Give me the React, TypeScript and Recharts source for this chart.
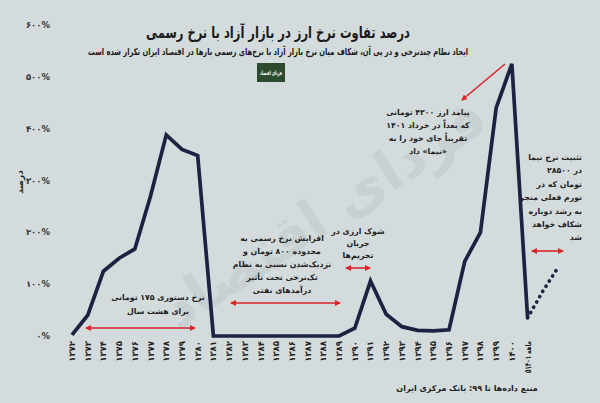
import React from 'react';
import { ComposedChart, Line, XAxis, YAxis } from 'recharts';

const years = ['۱۳۷۲','۱۳۷۳','۱۳۷۴','۱۳۷۵','۱۳۷۶','۱۳۷۷','۱۳۷۸','۱۳۷۹','۱۳۸۰','۱۳۸۱','۱۳۸۲','۱۳۸۳','۱۳۸۴','۱۳۸۵','۱۳۸۶','۱۳۸۷','۱۳۸۸','۱۳۸۹','۱۳۹۰','۱۳۹۱','۱۳۹۲','۱۳۹۳','۱۳۹۴','۱۳۹۵','۱۳۹۶','۱۳۹۷','۱۳۹۸','۱۳۹۹','۱۴۰۰','۵ماهه ۱۴۰۱','p1','p2'];
const gapValues: (number | null)[] = [2, 40, 125, 150, 168, 270, 388, 360, 348, 0, 0, 0, 0, 0, 0, 0, 0, 0, 15, 106, 42, 18, 11, 10, 12, 144, 200, 440, 525, 35, null, null];
const projectionValues: (number | null)[] = [null, null, null, null, null, null, null, null, null, null, null, null, null, null, null, null, null, null, null, null, null, null, null, null, null, null, null, null, null, 35, 88, 135];
const yTicks = [0, 100, 200, 300, 400, 500, 600];
const yTickLabels = ['۰%', '۱۰۰%', '۲۰۰%', '۳۰۰%', '۴۰۰%', '۵۰۰%', '۶۰۰%'];

const data = years.map((y, i) => ({ year: y, gap: gapValues[i], proj: projectionValues[i] }));

const FONT = 'DejaVu Sans';
const BG = '#d4dbdc';
const NAVY = '#1b2242';
const RED = '#d8262b';

const XTick = (props: any) => {
  const { x, y, payload } = props;
  const label = String(payload.value);
  if (label.startsWith('p')) return null;
  const long = label.length > 4;
  return (
    <text
      x={x}
      y={y}
      transform={`rotate(-90, ${x}, ${y})`}
      textAnchor="end"
      dominantBaseline="central"
      fontFamily={FONT}
      fontSize={8.5}
      fontWeight="bold"
      fill="#222"
      textLength={long ? 32 : undefined}
      lengthAdjust={long ? 'spacingAndGlyphs' : undefined}
    >
      {label}
    </text>
  );
};

const YTick = (props: any) => {
  const { x, y, payload } = props;
  const idx = yTicks.indexOf(payload.value);
  return (
    <text x={x} y={y} textAnchor="end" dominantBaseline="central" fontFamily={FONT} fontSize={8.5} fontWeight="bold" fill="#333">
      {yTickLabels[idx]}
    </text>
  );
};

const Arrow = ({ x1, y1, x2, y2, both = true }: any) => (
  <line x1={x1} y1={y1} x2={x2} y2={y2} stroke={RED} strokeWidth={1.6} markerEnd="url(#ah)" markerStart={both ? 'url(#ahs)' : undefined} />
);

const Lines = ({ x, y, lines, anchor = 'middle', size = 7.8, lh = 13 }: any) => (
  <text x={x} y={y} textAnchor={anchor} fontFamily={FONT} fontSize={size} fontWeight="bold" fill="#222" direction="rtl">
    {lines.map((l: string, i: number) => (
      <tspan key={i} x={x} dy={i === 0 ? 0 : lh}>{l}</tspan>
    ))}
  </text>
);

export default function App() {
  return (
    <div style={{ position: 'absolute', left: 0, top: 0, width: 600, height: 403, background: BG, overflow: 'hidden' }}>
      <svg width={600} height={403} style={{ position: 'absolute', left: 0, top: 0 }}>
        <text
          x={325}
          y={232}
          transform="rotate(-33, 325, 215)"
          textAnchor="middle"
          fontFamily={FONT}
          fontWeight="bold"
          fontSize={56}
          fill="#c9d0d1"
          direction="rtl"
        >
          فردای اقتصاد
        </text>
      </svg>
      <div style={{ position: 'absolute', left: 0, top: 0 }}>
        <ComposedChart width={600} height={403} data={data} margin={{ top: 25, right: 41, bottom: 0, left: 0 }}>
          <XAxis
            dataKey="year"
            scale="point"
            interval={0}
            height={67}
            tickLine={false}
            axisLine={false}
            tickSize={0}
            tickMargin={5}
            tick={<XTick />}
          />
          <YAxis
            domain={[0, 600]}
            ticks={yTicks}
            width={72}
            tickLine={false}
            axisLine={false}
            tickSize={0}
            tickMargin={22}
            tick={<YTick />}
          />
          <Line type="linear" dataKey="gap" stroke={NAVY} strokeWidth={3.7} dot={false} isAnimationActive={false} connectNulls={false} />
          <Line type="linear" dataKey="proj" stroke={NAVY} strokeWidth={3.7} strokeDasharray="0.1 6" strokeLinecap="round" dot={false} isAnimationActive={false} />
        </ComposedChart>
      </div>
      <svg width={600} height={403} style={{ position: 'absolute', left: 0, top: 0, pointerEvents: 'none' }}>
        <defs>
          <marker id="ah" markerWidth="6" markerHeight="6" refX="5" refY="3" orient="auto" markerUnits="userSpaceOnUse">
            <path d="M0,0 L6,3 L0,6 z" fill={RED} />
          </marker>
          <marker id="ahs" markerWidth="6" markerHeight="6" refX="1" refY="3" orient="auto" markerUnits="userSpaceOnUse">
            <path d="M6,0 L0,3 L6,6 z" fill={RED} />
          </marker>
        </defs>
        <text x={278} y={38} textAnchor="middle" fontFamily={FONT} fontWeight="bold" fontSize={16} fill="#1a1a1a" direction="rtl" textLength={264} lengthAdjust="spacingAndGlyphs">
          درصد تفاوت نرخ ارز در بازار آزاد با نرخ رسمی
        </text>
        <text x={278} y={55} textAnchor="middle" fontFamily={FONT} fontWeight="bold" fontSize={9.5} fill="#1a1a1a" direction="rtl" textLength={380} lengthAdjust="spacingAndGlyphs">
          ایجاد نظام چندنرخی و در پی آن، شکاف میان نرخ بازار آزاد با نرخ‌های رسمی بارها در اقتصاد ایران تکرار شده است
        </text>
        <rect x={257} y={63} width={28} height={19} fill="#2c4a2e" />
        <text x={271} y={75} textAnchor="middle" fontFamily={FONT} fontWeight="bold" fontSize={6} fill="#fff" direction="rtl" textLength={22} lengthAdjust="spacingAndGlyphs">فردای اقتصاد</text>

        <text x={20} y={182} transform="rotate(-90, 20, 182)" textAnchor="middle" dominantBaseline="central" fontFamily={FONT} fontWeight="bold" fontSize={9} fill="#222" direction="rtl">درصد</text>

        <Lines x={158} y={300} lines={['نرخ دستوری ۱۷۵ تومانی', 'برای هشت سال']} lh={14} />
        <Arrow x1={86} y1={328} x2={195} y2={328} />

        <Lines x={282} y={241} lines={['افزایش نرخ رسمی به', 'محدوده ۸۰۰ تومان و', 'نزدیک‌شدن نسبی به نظام', 'تک‌نرخی تحت تأثیر', 'درآمدهای نفتی']} />
        <Arrow x1={231} y1={303} x2={340} y2={303} />

        <Lines x={358} y={234} lines={['شوک ارزی در', 'جریان', 'تحریم‌ها']} lh={12} />
        <Arrow x1={346} y1={268} x2={370} y2={268} />

        <Lines x={428} y={115} lines={['پیامد ارز ۴۲۰۰ تومانی', 'که بعداً در خرداد ۱۴۰۱', 'تقریباً جای خود را به', '«نیما» داد']} />
        <Arrow x1={505} y1={64} x2={462} y2={100} both={false} />

        <Lines x={582} y={160} anchor="start" lines={['تثبیت نرخ نیما', 'در ۲۸۵۰۰', 'تومان که در', 'تورم فعلی منجر', 'به رشد دوباره', 'شکاف خواهد', 'شد']} lh={13.4} />
        <Arrow x1={532} y1={251} x2={563} y2={251} />

        <text x={467} y={391} textAnchor="middle" fontFamily={FONT} fontWeight="bold" fontSize={8} fill="#222" direction="rtl">
          منبع داده‌ها تا ۹۹: بانک مرکزی ایران
        </text>
      </svg>
    </div>
  );
}
